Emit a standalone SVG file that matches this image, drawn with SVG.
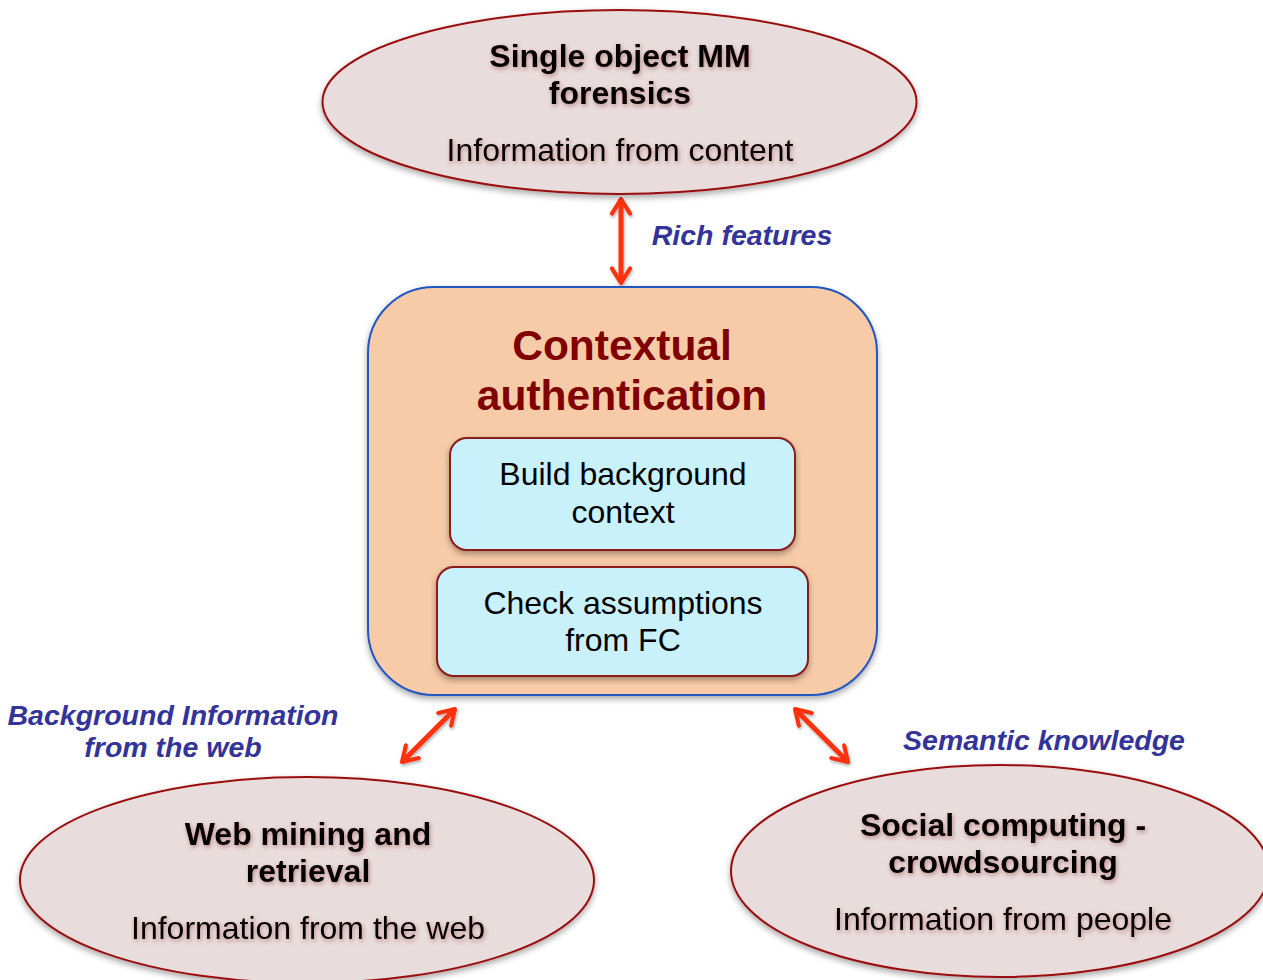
<svg xmlns="http://www.w3.org/2000/svg" width="1263" height="980" viewBox="0 0 1263 980">
<style>
.ell{fill:#e9dcdc;stroke:#9a1010;stroke-width:2;filter:url(#sh)}
.t{font-family:"Liberation Sans",Arial,sans-serif;text-anchor:middle;fill:#000}
.b{font-weight:bold;font-size:32px}
.r{font-size:32px}
.lab{font-family:"Liberation Sans",Arial,sans-serif;font-weight:bold;font-style:italic;font-size:28.5px;fill:#333399;text-anchor:middle}
.ts{filter:url(#tsh)}
.inner{fill:#c9f1fc;stroke:#8b1a1a;stroke-width:2;filter:url(#sh)}
.arr{stroke:#ff3311;stroke-width:5;fill:none;marker-start:url(#ah);marker-end:url(#ah);filter:url(#ash)}
</style>
<defs>
<filter id="sh" x="-10%" y="-10%" width="120%" height="130%">
<feDropShadow dx="0" dy="3" stdDeviation="3" flood-color="#000" flood-opacity="0.35"/>
</filter>
<filter id="tsh" x="-10%" y="-30%" width="120%" height="160%">
<feDropShadow dx="1" dy="2" stdDeviation="2" flood-color="#7a2020" flood-opacity="0.45"/>
</filter>
<filter id="ash" filterUnits="userSpaceOnUse" x="0" y="0" width="1263" height="980">
<feDropShadow dx="1" dy="2" stdDeviation="1.5" flood-color="#000" flood-opacity="0.3"/>
</filter>
<marker id="ah" viewBox="0 0 12 14" refX="10.5" refY="7" markerWidth="3.8" markerHeight="4.4" orient="auto-start-reverse" markerUnits="strokeWidth">
<path d="M1.2,1.2 L10.5,7 L1.2,12.8" fill="none" stroke="#ff3311" stroke-width="2.6" stroke-linecap="round" stroke-linejoin="round"/>
</marker>
</defs>
<rect width="1263" height="980" fill="#fff"/>

<g id="connectors">
<line class="arr" x1="621" y1="283" x2="621" y2="199"/>
<line class="arr" x1="455" y1="709" x2="402" y2="762"/>
<line class="arr" x1="795" y1="709" x2="848" y2="762"/>
</g>

<g id="top">
<ellipse class="ell" cx="619.5" cy="102" rx="297" ry="92"/>
<g class="ts">
<text class="t b" x="620" y="67">Single object MM</text>
<text class="t b" x="620" y="104">forensics</text>
<text class="t r" x="620" y="161">Information from content</text>
</g>
</g>

<g id="center">
<rect x="368" y="287" width="509" height="408" rx="66" fill="#f7cba8" stroke="#2057c0" stroke-width="2" filter="url(#sh)"/>
<text class="t" x="622" y="360" font-size="42.5" font-weight="bold" style="fill:#800000">Contextual</text>
<text class="t" x="622" y="410" font-size="42.5" font-weight="bold" style="fill:#800000">authentication</text>
</g>

<g id="build">
<rect class="inner" x="450" y="438" width="345" height="112" rx="17"/>
<text class="t r" x="623" y="485">Build background</text>
<text class="t r" x="623" y="523">context</text>
</g>

<g id="check">
<rect class="inner" x="437" y="567" width="371" height="109" rx="17"/>
<text class="t r" x="623" y="614">Check assumptions</text>
<text class="t r" x="623" y="651">from FC</text>
</g>

<g id="web">
<ellipse class="ell" cx="307" cy="880" rx="287" ry="103"/>
<g class="ts">
<text class="t b" x="308" y="845">Web mining and</text>
<text class="t b" x="308" y="882">retrieval</text>
<text class="t r" x="308" y="939">Information from the web</text>
</g>
</g>

<g id="social">
<ellipse class="ell" cx="1000" cy="871" rx="269" ry="106"/>
<g class="ts">
<text class="t b" x="1003" y="836">Social computing -</text>
<text class="t b" x="1003" y="873">crowdsourcing</text>
<text class="t r" x="1003" y="930">Information from people</text>
</g>
</g>

<g id="labels">
<text class="lab" x="742" y="245">Rich features</text>
<text class="lab" x="173" y="725">Background Information</text>
<text class="lab" x="173" y="757">from the web</text>
<text class="lab" x="1044" y="750">Semantic knowledge</text>
</g>
</svg>
